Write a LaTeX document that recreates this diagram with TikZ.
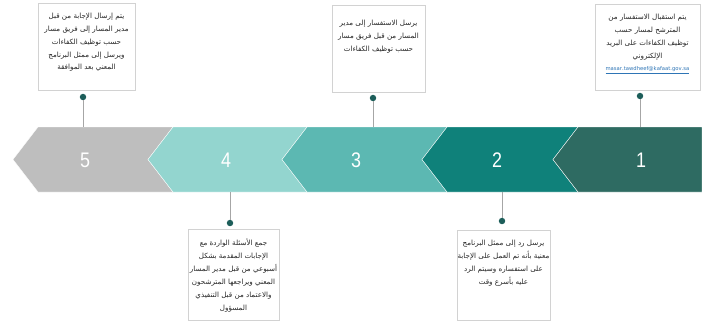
\documentclass[tikz,border=0pt]{standalone}
\usepackage{fontspec}
\setmainfont{Liberation Sans}
\newfontfamily\arabicfont[Script=Arabic]{DejaVu Sans}
\TeXXeTstate=1
\usetikzlibrary{positioning}
\usepackage{xcolor}
\definecolor{stepone}{HTML}{2E6B62}
\definecolor{steptwo}{HTML}{0F817A}
\definecolor{stepthree}{HTML}{5CB8B2}
\definecolor{stepfour}{HTML}{93D5CF}
\definecolor{stepfive}{HTML}{BEBEBE}
\definecolor{pindark}{HTML}{1D5E5A}
\definecolor{linkblue}{HTML}{2E75B6}
\newcommand{\arline}[1]{\beginR #1\endR}

\begin{document}
\begin{tikzpicture}[x=0.03cm,y=-0.03cm,
  infobox/.style={draw=gray!35,fill=white,line width=0.5pt},
  infotext/.style={font=\arabicfont\fontsize{6.1}{11}\selectfont,text=black!85,
    align=center,inner sep=0pt},
  pin/.style={circle,fill=pindark,inner sep=0pt,minimum size=5.5pt},
  stem/.style={gray!70,line width=0.4pt},
  stepnum/.style={font=\fontsize{18}{22}\selectfont,text=white,xscale=0.85}]
  \useasboundingbox (0,0) rectangle (702,324);
  % Chevron band
  \foreach \tip/\nxt/\col in {13/148/stepfive,148/282/stepfour,282/422/stepthree,422/553/steptwo}
    \fill[\col,draw=white,line width=0.3pt] (\tip,159.5) -- (\tip+25,127) -- (\nxt+25,127)
      -- (\nxt,159.5) -- (\nxt+25,192) -- (\tip+25,192) -- cycle;
  \fill[stepone,draw=white,line width=0.3pt] (553,159.5) -- (578,127) -- (702,127)
    -- (702,192) -- (578,192) -- cycle;
  % Step numbers
  \node[stepnum] (n5) at (85,160) {5};
  \node[stepnum] (n4) at (226,160) {4};
  \node[stepnum] (n3) at (356,160) {3};
  \node[stepnum] (n2) at (497,160) {2};
  \node[stepnum] (n1) at (641,160) {1};
  % Anchor points on the band
  \coordinate (s5) at (83,127);
  \coordinate (s3) at (373,127);
  \coordinate (s1) at (640,127);
  \coordinate (s4) at (230,192);
  \coordinate (s2) at (502,192);
  % Boxes
  \node[infobox,minimum width=2.91cm,minimum height=2.61cm] (b5) at (86.5,46.5) {};
  \node[infobox,minimum width=2.79cm,minimum height=2.61cm] (b3) at (378.5,48.5) {};
  \node[infobox,minimum width=3.15cm,minimum height=2.58cm] (b1) at (647.5,47) {};
  \node[infobox,minimum width=2.73cm,minimum height=2.73cm] (b4) at (233.5,274.5) {};
  \node[infobox,minimum width=2.79cm,minimum height=2.70cm] (b2) at (503.5,275) {};
  % Texts
  \node[infotext,anchor=north,below=0.3cm of b5.north] (t5) {%
    \arline{يتم إرسال الإجابة من قبل}\\
    \arline{مدير المسار إلى فريق مسار}\\
    \arline{حسب توظيف الكفاءات}\\
    \arline{ويرسل إلى ممثل البرنامج}\\
    \arline{المعني بعد الموافقة}};
  \node[infotext,anchor=north,below=0.45cm of b3.north] (t3) {%
    \arline{يرسل الاستفسار إلى مدير}\\
    \arline{المسار من قبل فريق مسار}\\
    \arline{حسب توظيف الكفاءات}};
  \node[infotext,anchor=north,below=0.3cm of b1.north] (t1) {%
    \arline{يتم استقبال الاستفسار من}\\
    \arline{المترشح لمسار حسب}\\
    \arline{توظيف الكفاءات على البريد}\\
    \arline{الإلكتروني}\\
    {\fontsize{4.5}{6}\selectfont\color{linkblue}\underline{masar.tawdheef@kafaat.gov.sa}}};
  \node[infotext,anchor=north,below=0.3cm of b4.north] (t4) {%
    \arline{جمع الأسئلة الواردة مع}\\
    \arline{الإجابات المقدمة بشكل}\\
    \arline{أسبوعي من قبل مدير المسار}\\
    \arline{المعني ويراجعها المترشحون}\\
    \arline{والاعتماد من قبل التنفيذي}\\
    \arline{المسؤول}};
  \node[infotext,anchor=north,below=0.3cm of b2.north] (t2) {%
    \arline{يرسل رد إلى ممثل البرنامج}\\
    \arline{معنية بأنه تم العمل على الإجابة}\\
    \arline{على استفساره وسيتم الرد}\\
    \arline{عليه بأسرع وقت}};
  % Pins and stems
  \node[pin] (d5) at (83,97) {};
  \node[pin] (d3) at (373,98) {};
  \node[pin] (d1) at (640,96) {};
  \node[pin] (d4) at (230,223) {};
  \node[pin] (d2) at (502,221) {};
  \draw[stem] (d5) -- (s5);
  \draw[stem] (d3) -- (s3);
  \draw[stem] (d1) -- (s1);
  \draw[stem] (d4) -- (s4);
  \draw[stem] (d2) -- (s2);
\end{tikzpicture}
\end{document}
